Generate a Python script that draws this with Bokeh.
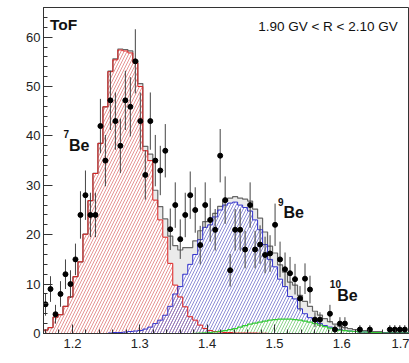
import numpy as np
from bokeh.plotting import figure
from bokeh.models import SingleIntervalTicker, Label
from bokeh.embed import file_html
from bokeh.resources import INLINE

nan = float("nan")

# binning (1/beta)
BIN_LO = 1.1563
BIN_W = 0.00741
N_BINS = 74

data_vals = [5.9, 9.0, 3.9, 8.0, 12.0, 10.0, 15.0, 24.0, 28.0, 24.0,
             24.0, 42.0, 35.0, 47.2, 43.0, 38.0, 47.2, 45.9, 55.1, 43.0,
             32.1, 43.0, 35.0, 33.0, 37.0, 21.1, 26.0, 19.1, 24.0, 28.0,
             25.0, 17.9, 26.0, 23.0, 21.0, 36.0, 27.0, 12.8, 21.0, 21.0,
             17.0, 26.0, 17.0, 18.0, 15.9, 16.2, 22.0, 15.0, 13.0, 12.2,
             11.0, 7.1, 11.1, 8.9, 2.8, 2.8, nan, 4.0, 0.8, 2.0,
             2.0, nan, nan, 0.8, nan, 0.8, nan, nan, nan, 0.8,
             0.8, 0.8, 0.8, nan]
data_errs = [2.3, 2.6, 1.9, 2.6, 3.0, 2.8, 3.2, 4.8, 5.0, 4.5,
             4.5, 5.5, 5.2, 6.0, 5.8, 5.5, 6.0, 6.0, 6.5, 5.8,
             5.0, 5.8, 5.2, 5.0, 5.4, 4.2, 4.6, 4.0, 4.5, 4.8,
             4.6, 3.9, 4.6, 4.4, 4.2, 5.4, 4.8, 3.3, 4.2, 4.2,
             3.8, 4.6, 3.8, 3.9, 3.7, 3.7, 4.3, 3.6, 3.4, 3.3,
             3.1, 2.5, 3.1, 2.8, 1.5, 1.5, nan, 1.8, 0.9, 1.3,
             1.3, nan, nan, 0.9, nan, 0.9, nan, nan, nan, 0.9,
             0.9, 0.9, 0.9, nan]

be7 = [0.7, 1.2, 3.3, 3.8, 5.5, 7.4, 11.5, 14.5, 20.1, 26.9,
       32.4, 38.5, 45.9, 53.0, 55.4, 57.4, 57.2, 56.8, 54.8, 50.0,
       37.0, 35.0, 27.0, 23.0, 19.5, 14.2, 9.8, 7.4, 5.4, 3.4,
       2.7, 1.7, 1.0, 0.6, 0.4, 0.3, 0.2, 0.2, 0.1, 0.1,
       0.1, 0.1, 0.1, 0.05, 0.05, 0.0, 0.0, 0.0, 0.0, 0.0,
       0.0, 0.0, 0.0, 0.0, 0.0, 0.0, 0.0, 0.0, 0.0, 0.0,
       0.0, 0.0, 0.0, 0.0, 0.0, 0.0, 0.0, 0.0, 0.0, 0.0,
       0.0, 0.0, 0.0, 0.0]
be9 = [0.0, 0.0, 0.0, 0.0, 0.0, 0.0, 0.0, 0.0, 0.0, 0.0,
       0.0, 0.0, 0.0, 0.1, 0.2, 0.2, 0.3, 0.4, 0.5, 0.6,
       0.9, 1.3, 2.0, 2.7, 3.7, 5.5, 8.0, 9.5, 12.0, 14.0,
       16.0, 19.0, 21.5, 22.0, 23.6, 25.0, 26.0, 26.4, 26.6, 26.0,
       25.5, 24.8, 23.0, 21.0, 18.0, 15.0, 13.5, 11.0, 9.5, 7.5,
       7.0, 5.0, 4.0, 3.2, 2.5, 2.0, 1.6, 1.3, 1.0, 0.8,
       0.6, 0.5, 0.4, 0.3, 0.3, 0.2, 0.2, 0.2, 0.1, 0.1,
       0.1, 0.1, 0.1, 0.1]
be10 = [0.0, 0.0, 0.0, 0.0, 0.0, 0.0, 0.0, 0.0, 0.0, 0.0,
        0.0, 0.0, 0.0, 0.0, 0.0, 0.0, 0.0, 0.0, 0.0, 0.0,
        0.0, 0.0, 0.0, 0.0, 0.0, 0.0, 0.0, 0.0, 0.0, 0.0,
        0.05, 0.1, 0.15, 0.2, 0.3, 0.45, 0.6, 0.8, 1.0, 1.3,
        1.6, 1.9, 2.1, 2.3, 2.5, 2.7, 2.8, 2.9, 2.9, 2.9,
        2.8, 2.7, 2.5, 2.3, 2.0, 1.7, 1.4, 1.1, 0.9, 0.7,
        0.6, 0.5, 0.4, 0.3, 0.3, 0.2, 0.2, 0.2, 0.1, 0.1,
        0.1, 0.1, 0.1, 0.1]

edges = BIN_LO + BIN_W * np.arange(N_BINS + 1)
centers = 0.5 * (edges[:-1] + edges[1:])
d = np.array(data_vals)
e = np.array(data_errs)
r7 = np.array(be7)
r9 = np.array(be9)
r10 = np.array(be10)
tot = r7 + r9 + r10


def stepy(v):
    return np.append(v, v[-1])


FONT = "Liberation Sans"

p = figure(width=409, height=363, x_range=(1.157, 1.7005), y_range=(0, 66),
           output_backend="svg", toolbar_location=None,
           min_border_left=43, min_border_right=0, min_border_top=7, min_border_bottom=30)
p.background_fill_color = "white"
p.border_fill_color = "white"
p.outline_line_color = "#333333"
p.xgrid.visible = False
p.ygrid.visible = False

zeros = np.zeros(N_BINS + 1)
# total fill
p.varea_step(x=edges, y1=zeros, y2=stepy(tot), step_mode="after", fill_color="#ebebeb")
# white under the species
p.varea_step(x=edges, y1=zeros, y2=stepy(r7), step_mode="after", fill_color="white")
p.varea_step(x=edges, y1=zeros, y2=stepy(r9), step_mode="after", fill_color="white")
# hatches
p.varea_step(x=edges, y1=zeros, y2=stepy(r7), step_mode="after", fill_alpha=0,
             hatch_pattern="/", hatch_color="#e07878", hatch_scale=6, hatch_weight=0.8)
p.varea_step(x=edges, y1=zeros, y2=stepy(r9), step_mode="after", fill_alpha=0,
             hatch_pattern="/", hatch_color="#7070cc", hatch_scale=6, hatch_weight=0.8)
p.varea_step(x=edges, y1=zeros, y2=stepy(r10), step_mode="after", fill_color="white",
             hatch_pattern="/", hatch_color="#70c870", hatch_scale=6, hatch_weight=0.8)
# outlines
p.step(x=edges, y=stepy(tot), mode="after", line_color="#666666", line_width=1.2)
p.step(x=edges, y=stepy(r7), mode="after", line_color="#dd2222", line_width=1)
p.step(x=edges, y=stepy(r9), mode="after", line_color="#3333cc", line_width=1)
p.step(x=edges, y=stepy(r10), mode="after", line_color="#33cc33", line_width=1.2)

# data
p.segment(x0=centers, y0=d - e, x1=centers, y1=d + e, line_color="#444444", line_width=1)
p.scatter(x=centers, y=d, size=5, marker="circle", fill_color="black", line_color="black")

for ax, interval in ((p.xaxis[0], 0.1), (p.yaxis[0], 10)):
    ax.ticker = SingleIntervalTicker(interval=interval, num_minor_ticks=5)
    ax.axis_line_color = "#333333"
    ax.major_tick_line_color = "#333333"
    ax.minor_tick_line_color = "#333333"
    ax.major_tick_in = 9
    ax.major_tick_out = 0
    ax.minor_tick_in = 4
    ax.minor_tick_out = 0
    ax.major_label_text_font = FONT
    ax.major_label_text_font_size = "13px"
    ax.major_label_text_color = "#222222"
p.yaxis[0].major_label_standoff = 3
p.xaxis[0].major_label_standoff = 5

labels = [
    dict(x=1.1667, y=62.6, text="ToF", text_font_size="15.5px", text_font_style="bold",
         text_baseline="alphabetic", text_align="left"),
    dict(x=1.683, y=62.1, text="1.90 GV < R < 2.10 GV", text_font_size="13.5px",
         text_font_style="normal", text_baseline="alphabetic", text_align="right"),
    dict(x=1.1867, y=41.2, text="7", text_font_size="10px", text_font_style="bold",
         text_baseline="top", text_align="left"),
    dict(x=1.1948, y=38.1, text="Be", text_font_size="16px", text_font_style="bold",
         text_baseline="alphabetic", text_align="left"),
    dict(x=1.5052, y=27.4, text="9", text_font_size="10px", text_font_style="bold",
         text_baseline="top", text_align="left"),
    dict(x=1.5133, y=24.4, text="Be", text_font_size="16px", text_font_style="bold",
         text_baseline="alphabetic", text_align="left"),
    dict(x=1.5822, y=10.8, text="10", text_font_size="10px", text_font_style="bold",
         text_baseline="top", text_align="left"),
    dict(x=1.5933, y=7.76, text="Be", text_font_size="16px", text_font_style="bold",
         text_baseline="alphabetic", text_align="left"),
    dict(x=1.6975, y=-4.6, text="1/\u03b2", text_font_size="11px", text_font_style="normal",
         text_baseline="alphabetic", text_align="right"),
]
for lb in labels:
    p.add_layout(Label(text_font=FONT, text_color="#111111", **lb))

open("out.html", "w").write(file_html(p, INLINE))
